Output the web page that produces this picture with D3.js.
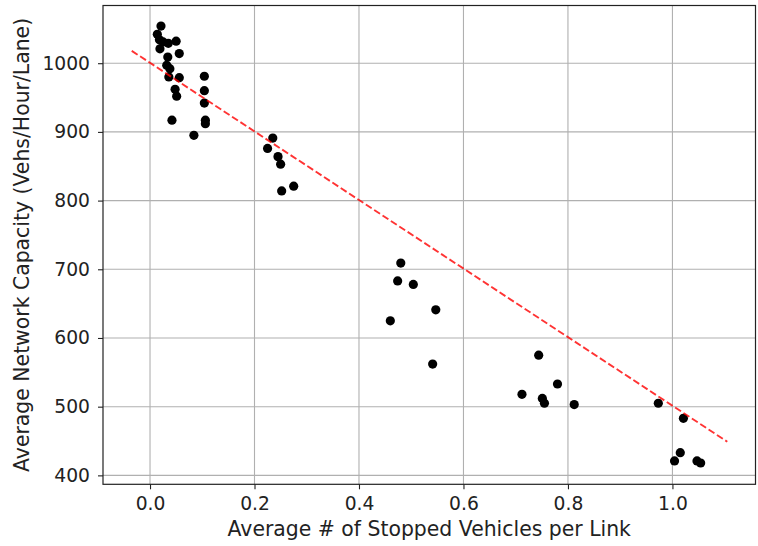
<!DOCTYPE html>
<html>
<head>
<meta charset="utf-8">
<script src="https://cdn.jsdelivr.net/npm/d3@7"></script>
<style>
  body { margin: 0; background: #fff; }
  svg text { font-family: "DejaVu Sans", sans-serif; }
</style>
</head>
<body>
<svg id="chart" width="758" height="546"></svg>
<script>
// average stopped vehicles per link vs. network capacity
const stoppedVehicles = [
  0.021, 0.014, 0.018, 0.025, 0.050, 0.035, 0.019, 0.056, 0.034, 0.032,
  0.038, 0.036, 0.056, 0.048, 0.051, 0.104, 0.104, 0.104, 0.106, 0.106,
  0.042, 0.084, 0.235, 0.225, 0.245, 0.250, 0.275, 0.252,
  0.480, 0.474, 0.504, 0.547, 0.460, 0.541,
  0.744, 0.780, 0.712, 0.751, 0.755, 0.812,
  0.973, 1.021, 1.015, 1.004, 1.047, 1.054
];
const capacity = [
  1054, 1042, 1034, 1031, 1032, 1029, 1021, 1014, 1009, 997,
  992, 980, 979, 962, 952, 981, 960, 942, 917, 912,
  917, 895, 891, 876, 864, 853, 821, 814,
  709, 683, 678, 641, 625, 562,
  575, 533, 518, 512, 505, 503,
  505, 483, 433, 421, 421, 418
];

// fitted trend line endpoints
const fitX = [-0.035, 1.105];
const fitY = [1018, 449];

const xTicks = [0.0, 0.2, 0.4, 0.6, 0.8, 1.0];
const yTicks = [400, 500, 600, 700, 800, 900, 1000];

const margin = {top: 5.5, right: 2.5, bottom: 61.7, left: 103};
const width = 758 - margin.left - margin.right;
const height = 546 - margin.top - margin.bottom;

const svg = d3.select("#chart");
const g = svg.append("g")
  .attr("transform", `translate(${margin.left},${margin.top})`);

const x = d3.scaleLinear().domain([-0.09, 1.159]).range([0, width]);
const y = d3.scaleLinear().domain([387, 1084]).range([height, 0]);

// grid
g.append("g")
  .selectAll("line")
  .data(xTicks)
  .join("line")
  .attr("x1", d => x(d))
  .attr("x2", d => x(d))
  .attr("y1", 0)
  .attr("y2", height)
  .attr("stroke", "#b0b0b0")
  .attr("stroke-width", 1.1);

g.append("g")
  .selectAll("line")
  .data(yTicks)
  .join("line")
  .attr("x1", 0)
  .attr("x2", width)
  .attr("y1", d => y(d))
  .attr("y2", d => y(d))
  .attr("stroke", "#b0b0b0")
  .attr("stroke-width", 1.1);

// points
const points = stoppedVehicles.map((v, i) => ({x: v, y: capacity[i]}));
g.append("g")
  .selectAll("circle")
  .data(points)
  .join("circle")
  .attr("cx", d => x(d.x))
  .attr("cy", d => y(d.y))
  .attr("r", 4.6)
  .attr("fill", "#000");

// trend line
const line = d3.line()
  .x(d => x(d[0]))
  .y(d => y(d[1]));

g.append("path")
  .datum(d3.zip(fitX, fitY))
  .attr("d", line)
  .attr("fill", "none")
  .attr("stroke", "#ff0000")
  .attr("stroke-opacity", 0.8)
  .attr("stroke-width", 1.9)
  .attr("stroke-dasharray", "7,3");

// axes
const xAxis = d3.axisBottom(x)
  .tickValues(xTicks)
  .tickFormat(d3.format(".1f"))
  .tickSize(5)
  .tickPadding(7.6);

const yAxis = d3.axisLeft(y)
  .tickValues(yTicks)
  .tickFormat(d3.format("d"))
  .tickSize(5)
  .tickPadding(8);

const gx = g.append("g")
  .attr("transform", `translate(0,${height})`)
  .call(xAxis);
const gy = g.append("g").call(yAxis);

[gx, gy].forEach(a => {
  a.select(".domain").remove();
  a.selectAll(".tick line").attr("stroke", "#222").attr("stroke-width", 1.1);
  a.selectAll(".tick text")
    .attr("fill", "#222")
    .attr("font-size", "18.7px")
    .style("font-family", "DejaVu Sans, sans-serif");
});

// frame
g.append("rect")
  .attr("x", 0)
  .attr("y", 0)
  .attr("width", width)
  .attr("height", height)
  .attr("fill", "none")
  .attr("stroke", "#222")
  .attr("stroke-width", 1.2);

// labels
svg.append("text")
  .attr("x", margin.left + width / 2)
  .attr("y", 536)
  .attr("text-anchor", "middle")
  .attr("font-size", "20.4px")
  .attr("fill", "#222")
  .text("Average # of Stopped Vehicles per Link");

svg.append("text")
  .attr("transform", `translate(28.5,${margin.top + height / 2}) rotate(-90)`)
  .attr("text-anchor", "middle")
  .attr("font-size", "20.4px")
  .attr("fill", "#222")
  .text("Average Network Capacity (Vehs/Hour/Lane)");
</script>
</body>
</html>
